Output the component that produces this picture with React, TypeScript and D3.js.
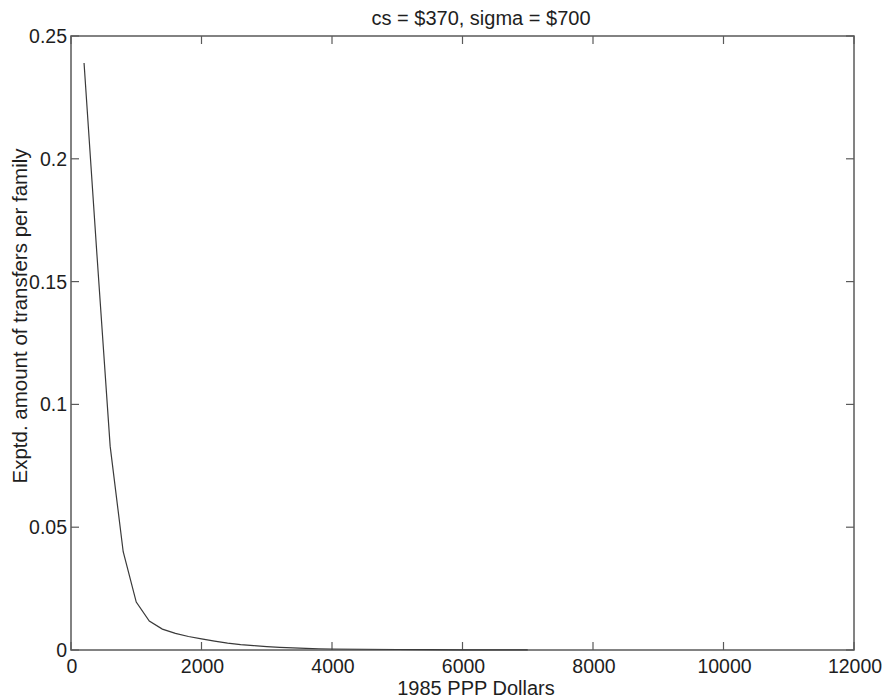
import React, { useEffect, useRef } from 'react';
import * as d3 from 'd3';

// income levels (1985 PPP dollars) and expected transfers per family
const incomes = [200, 400, 600, 800, 1000, 1200, 1400, 1600, 1800, 2000, 2200, 2400, 2600, 2800, 3000,
    3200, 3400, 3600, 3800, 4000, 4500, 5000, 5500, 6000, 6500, 7000];
const transfers = [0.239, 0.160, 0.083, 0.040, 0.0195, 0.0118, 0.0085, 0.0068, 0.0055, 0.0045, 0.0036,
    0.0028, 0.0022, 0.0018, 0.0014, 0.0011, 0.0009, 0.0007, 0.0005, 0.0004, 0.0003, 0.0002, 0.00012,
    0.00008, 0.00005, 0.00003];

const xTicks = [0, 2000, 4000, 6000, 8000, 10000, 12000];
const yTicks = [0, 0.05, 0.1, 0.15, 0.2, 0.25];

const chartTitle = 'cs = $370, sigma = $700';
const xTitle = '1985 PPP Dollars';
const yTitle = 'Exptd. amount of transfers per family';

function App() {
    const ref = useRef<SVGSVGElement>(null);

    useEffect(() => {
        const width = 891;
        const height = 700;
        const margin = { left: 71, right: 37, top: 36, bottom: 50 };
        const font = 'Liberation Sans, Arial, Helvetica, sans-serif';
        const axisColor = '#5a5a5a';
        const textColor = '#1e1e1e';

        const svg = d3.select(ref.current);
        svg.selectAll('*').remove();

        const x = d3.scaleLinear().domain([0, 12000]).range([margin.left, width - margin.right]);
        const y = d3.scaleLinear().domain([0, 0.25]).range([height - margin.bottom, margin.top]);

        const data = incomes.map((v, i) => ({ x: v, y: transfers[i] }));

        // frame
        svg.append('rect')
            .attr('x', x(0))
            .attr('y', y(0.25))
            .attr('width', x(12000) - x(0))
            .attr('height', y(0) - y(0.25))
            .attr('fill', 'none')
            .attr('stroke', axisColor)
            .attr('stroke-width', 1.5);

        const tickLen = 8;

        // x ticks (bottom and top, pointing in)
        xTicks.forEach(t => {
            svg.append('line')
                .attr('x1', x(t)).attr('x2', x(t))
                .attr('y1', y(0)).attr('y2', y(0) - tickLen)
                .attr('stroke', axisColor).attr('stroke-width', 1.2);
            svg.append('line')
                .attr('x1', x(t)).attr('x2', x(t))
                .attr('y1', y(0.25)).attr('y2', y(0.25) + tickLen)
                .attr('stroke', axisColor).attr('stroke-width', 1.2);
            svg.append('text')
                .attr('x', x(t) + 1)
                .attr('y', y(0) + 23)
                .attr('text-anchor', 'middle')
                .attr('font-family', font)
                .attr('font-size', 19.5)
                .attr('fill', textColor)
                .text(String(t));
        });

        // y ticks (left and right)
        yTicks.forEach(t => {
            svg.append('line')
                .attr('x1', x(0)).attr('x2', x(0) + tickLen)
                .attr('y1', y(t)).attr('y2', y(t))
                .attr('stroke', axisColor).attr('stroke-width', 1.2);
            svg.append('line')
                .attr('x1', x(12000)).attr('x2', x(12000) - tickLen)
                .attr('y1', y(t)).attr('y2', y(t))
                .attr('stroke', axisColor).attr('stroke-width', 1.2);
            svg.append('text')
                .attr('x', x(0) - 4)
                .attr('y', y(t) + 7)
                .attr('text-anchor', 'end')
                .attr('font-family', font)
                .attr('font-size', 19.5)
                .attr('fill', textColor)
                .text(String(t));
        });

        // the curve
        const line = d3.line<{ x: number; y: number }>()
            .x(d => x(d.x))
            .y(d => y(d.y));

        svg.append('path')
            .datum(data)
            .attr('d', line)
            .attr('fill', 'none')
            .attr('stroke', '#3a3a3a')
            .attr('stroke-width', 1.2);

        // titles
        svg.append('text')
            .attr('x', 481)
            .attr('y', 25)
            .attr('text-anchor', 'middle')
            .attr('font-family', font)
            .attr('font-size', 20)
            .attr('fill', textColor)
            .text(chartTitle);

        svg.append('text')
            .attr('x', 476)
            .attr('y', 695)
            .attr('text-anchor', 'middle')
            .attr('font-family', font)
            .attr('font-size', 20)
            .attr('fill', textColor)
            .text(xTitle);

        svg.append('text')
            .attr('transform', 'translate(27, 316) rotate(-90)')
            .attr('text-anchor', 'middle')
            .attr('font-family', font)
            .attr('font-size', 20.5)
            .attr('fill', textColor)
            .text(yTitle);
    }, []);

    return (
        <svg ref={ref} width={891} height={700}
             style={{ position: 'absolute', left: 0, top: 0, background: '#fff' }} />
    );
}

export default App;
